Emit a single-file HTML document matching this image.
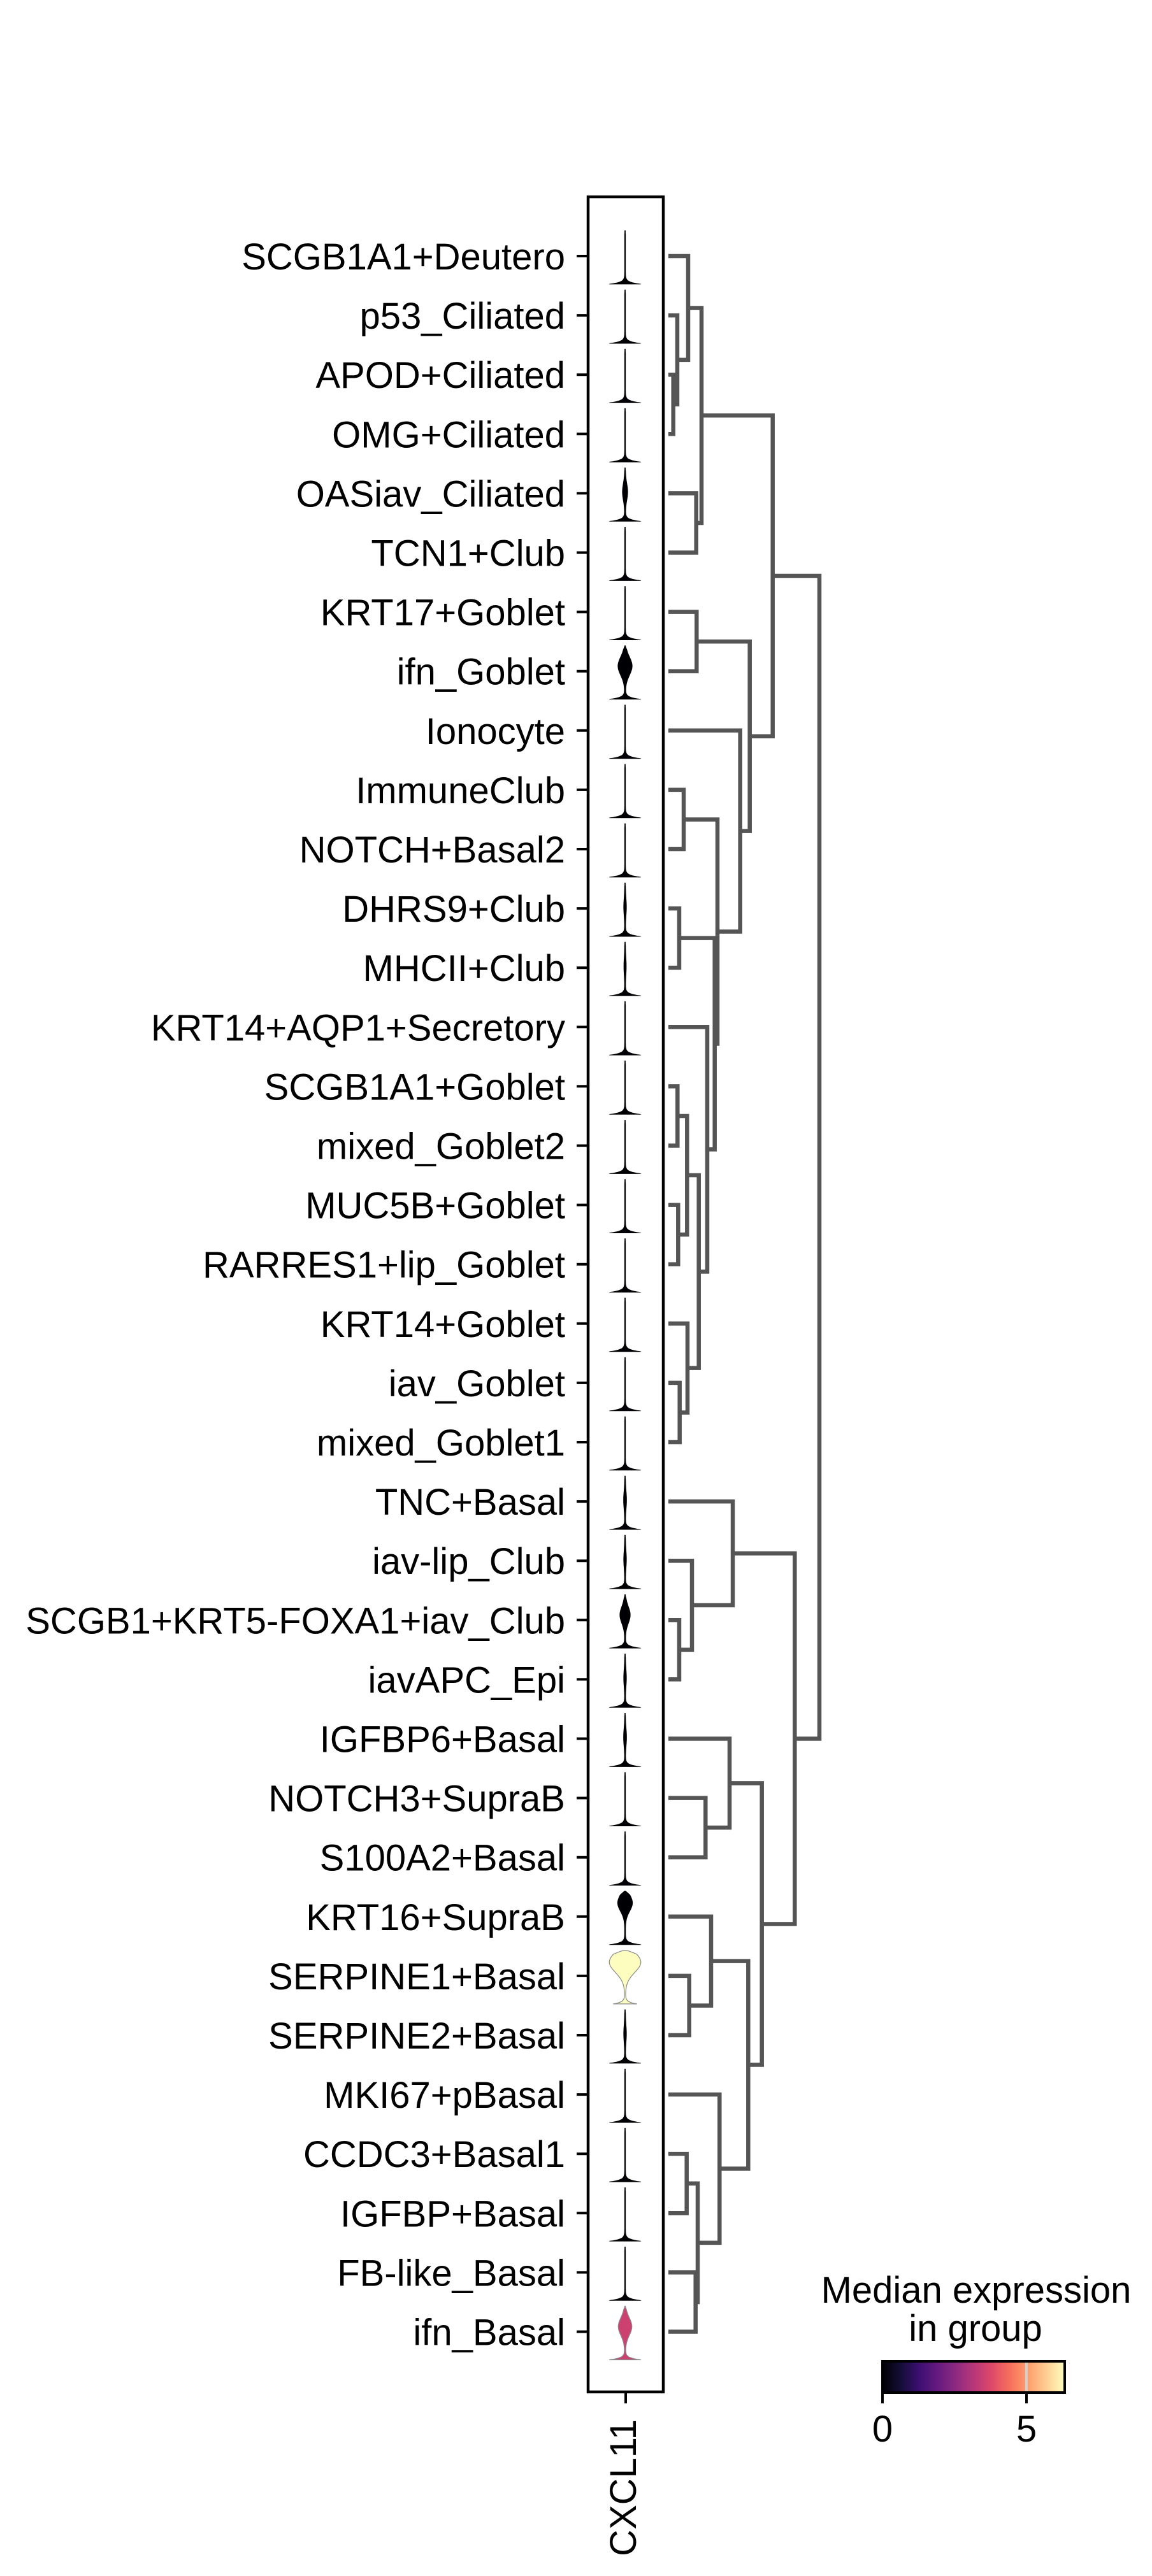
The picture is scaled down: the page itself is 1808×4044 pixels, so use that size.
<!DOCTYPE html>
<html><head><meta charset="utf-8"><style>
html,body{margin:0;padding:0;background:#fff;}
svg{display:block;font-family:"Liberation Sans",Arial,sans-serif;}
</style></head><body>
<svg id="chart" width="1808" height="4044" viewBox="0 0 1808 4044" xmlns="http://www.w3.org/2000/svg">
<rect width="1808" height="4044" fill="#fff"/>
<g id="violins"></g>
<g id="labels"></g>
<g id="dendro"></g>
<rect x="923" y="309" width="118" height="3446" fill="none" stroke="#000" stroke-width="4.5"/>
<line x1="982" y1="3757" x2="982" y2="3773" stroke="#000" stroke-width="4"/>
<text x="998" y="3798" font-size="58" text-anchor="end" transform="rotate(-90 998 3798)">CXCL11</text>
<g>
<text x="1532" y="3615" font-size="58" text-anchor="middle">Median expression</text>
<text x="1531" y="3675" font-size="58" text-anchor="middle">in group</text>
<defs><linearGradient id="magma" x1="0" x2="1" y1="0" y2="0"></linearGradient></defs>
<rect x="1385" y="3707" width="286" height="49" fill="url(#magma)"/>
<line id="cb5" x1="1611" y1="3707" x2="1611" y2="3756" stroke="#cfcfcf" stroke-width="4"/>
<rect x="1385" y="3707" width="286" height="49" fill="none" stroke="#000" stroke-width="4"/>
<g id="cbticks"></g>
</g>
</svg>
<script>
const categories = ["SCGB1A1+Deutero","p53_Ciliated","APOD+Ciliated","OMG+Ciliated","OASiav_Ciliated","TCN1+Club","KRT17+Goblet","ifn_Goblet","Ionocyte","ImmuneClub","NOTCH+Basal2","DHRS9+Club","MHCII+Club","KRT14+AQP1+Secretory","SCGB1A1+Goblet","mixed_Goblet2","MUC5B+Goblet","RARRES1+lip_Goblet","KRT14+Goblet","iav_Goblet","mixed_Goblet1","TNC+Basal","iav-lip_Club","SCGB1+KRT5-FOXA1+iav_Club","iavAPC_Epi","IGFBP6+Basal","NOTCH3+SupraB","S100A2+Basal","KRT16+SupraB","SERPINE1+Basal","SERPINE2+Basal","MKI67+pBasal","CCDC3+Basal1","IGFBP+Basal","FB-like_Basal","ifn_Basal"];
const medians = [0,0,0,0,0,0,0,0,0,0,0,0,0,0,0,0,0,0,0,0,0,0,0,0,0,0,0,0,0,6.3,0,0,0,0,0,3.5];
const peakDensity = [0,0,0,0,0.14,0,0,0.42,0,0,0,0.06,0.05,0,0,0,0,0,0,0,0,0.07,0.06,0.3,0.06,0.07,0,0,0.44,0.96,0.06,0,0,0,0,0.4];
const peakPosition = [0.5,0.5,0.5,0.5,0.55,0.5,0.5,0.62,0.5,0.5,0.5,0.55,0.55,0.5,0.5,0.5,0.5,0.5,0.5,0.5,0.5,0.55,0.55,0.62,0.55,0.55,0.5,0.5,0.78,0.78,0.55,0.5,0.5,0.5,0.5,0.62];
const peakSpread = [0.2,0.2,0.2,0.2,0.22,0.2,0.2,0.24,0.2,0.2,0.2,0.22,0.22,0.2,0.2,0.2,0.2,0.2,0.2,0.2,0.2,0.22,0.22,0.22,0.22,0.22,0.2,0.2,0.22,0.27,0.22,0.2,0.2,0.2,0.2,0.23];
const zeroDensity = [1,1,1,1,1,1,1,1,1,1,1,1,1,1,1,1,1,1,1,1,1,1,1,1,1,1,1,1,1,0.75,1,1,1,1,1,1];
const colorTicks = [0,5];
const colorMax = 6.3;
// dendrogram merges: [childA, childB, height]; children >=0 are leaves, "n#" refers to merge index
const merges = [
 [2,3,0.77],[1,"n0",1.4],[0,"n1",3.1],[4,5,4.37],["n2","n3",5.2],[6,7,4.43],
 [9,10,2.4],[11,12,1.7],[14,15,1.43],[16,17,1.53],["n8","n9",2.93],[19,20,1.77],
 [18,"n11",3.0],["n10","n12",4.77],[13,"n13",6.1],["n7","n14",7.27],["n6","n15",7.7],
 [8,"n16",11.27],["n5","n17",12.77],["n4","n18",16.37],
 [23,24,1.7],[22,"n20",3.7],[21,"n21",10.1],[26,27,5.83],[25,"n23",9.6],
 [29,30,3.27],[28,"n25",6.7],[32,33,2.87],[34,35,4.27],["n27","n28",4.6],[31,"n29",8.03],
 ["n26","n30",12.53],["n24","n31",14.67],["n22","n32",19.83],["n19","n33",23.7]
];
const magmaStops = ["#000004","#140e36","#3b0f70","#641a80","#8c2981","#b73779","#de4968","#f7705c","#fe9f6d","#fecf92","#fcfdbf"];

const NS="http://www.w3.org/2000/svg";
const rowY = i => 402 + i*93.1;
const dendX = h => 1049 + h*10;
const cbX = v => 1385 + v*45.2;
function hex2rgb(h){return [1,3,5].map(k=>parseInt(h.substr(k,2),16));}
function magma(t){t=Math.max(0,Math.min(1,t));const p=t*10,i=Math.min(9,Math.floor(p)),f=p-i;const a=hex2rgb(magmaStops[i]),b=hex2rgb(magmaStops[i+1]);return "rgb("+a.map((v,k)=>Math.round(v+(b[k]-v)*f)).join(",")+")";}

const grad=document.getElementById('magma');
magmaStops.forEach((c,i)=>{const s=document.createElementNS(NS,'stop');s.setAttribute('offset',(i*10)+'%');s.setAttribute('stop-color',c);grad.appendChild(s);});
document.getElementById('cb5').setAttribute('x1',cbX(5));document.getElementById('cb5').setAttribute('x2',cbX(5));

const lab=document.getElementById('labels');
categories.forEach((c,i)=>{
 const t=document.createElementNS(NS,'text');
 t.setAttribute('x',887);t.setAttribute('y',rowY(i)+21);t.setAttribute('font-size','58');t.setAttribute('text-anchor','end');
 t.textContent=c;
 
 
 lab.appendChild(t);
 const l=document.createElementNS(NS,'line');
 l.setAttribute('x1',905);l.setAttribute('x2',922);l.setAttribute('y1',rowY(i));l.setAttribute('y2',rowY(i));
 l.setAttribute('stroke','#000');l.setAttribute('stroke-width','4');
 
 
 lab.appendChild(l);
});

const vg=document.getElementById('violins');
categories.forEach((c,i)=>{
 const cy=rowY(i), bot=cy+44, top=cy-40, cx=981, N=100;
 const sig = peakSpread[i];
 const hw=t=>{
   let w=0.7+24*zeroDensity[i]*Math.exp(-t/0.035);
   w+=25*peakDensity[i]*Math.exp(-Math.pow((t-peakPosition[i])/sig,2));
   if(t>0.93) w*= Math.sqrt(Math.max(0,(1-t)/0.07));
   return Math.max(w,0.5);
 };
 let left=[],right=[];
 for(let k=0;k<=N;k++){const t=k/N,y=bot-(bot-top)*t,w=hw(t);right.push((cx+w).toFixed(1)+","+y.toFixed(1));left.push((cx-w).toFixed(1)+","+y.toFixed(1));}
 const d="M"+right.join(" L")+" L"+left.reverse().join(" L")+" Z";
 const p=document.createElementNS(NS,'path');
 const col=magma(medians[i]/colorMax);
 p.setAttribute('d',d);p.setAttribute('fill',col);
 p.setAttribute('stroke',medians[i]>0?'#8a8a8a':'#000');p.setAttribute('stroke-width',medians[i]>0?'1.2':'0.8');
 
 
 vg.appendChild(p);
});

const dg=document.getElementById('dendro');
const nodes=[];
function node(ref){ if(typeof ref==='number') return {y:rowY(ref),x:1049}; return nodes[parseInt(ref.slice(1))]; }
merges.forEach(m=>{
 const a=node(m[0]),b=node(m[1]),x=dendX(m[2]);
 const p=document.createElementNS(NS,'path');
 p.setAttribute('d',`M${a.x},${a.y} H${x} V${b.y} H${b.x}`);
 p.setAttribute('fill','none');p.setAttribute('stroke','#555555');p.setAttribute('stroke-width','6.5');
 
 
 dg.appendChild(p);
 nodes.push({x:x,y:(a.y+b.y)/2});
});

const cbt=document.getElementById('cbticks');
colorTicks.forEach(v=>{
 const l=document.createElementNS(NS,'line');
 l.setAttribute('x1',cbX(v));l.setAttribute('x2',cbX(v));l.setAttribute('y1',3756);l.setAttribute('y2',3773);
 l.setAttribute('stroke','#000');l.setAttribute('stroke-width','4');
 
 
 cbt.appendChild(l);
 const t=document.createElementNS(NS,'text');
 t.setAttribute('x',cbX(v));t.setAttribute('y',3833);t.setAttribute('font-size','58');t.setAttribute('text-anchor','middle');
 t.textContent=String(v);
 
 
 cbt.appendChild(t);
});
</script>
</body></html>
